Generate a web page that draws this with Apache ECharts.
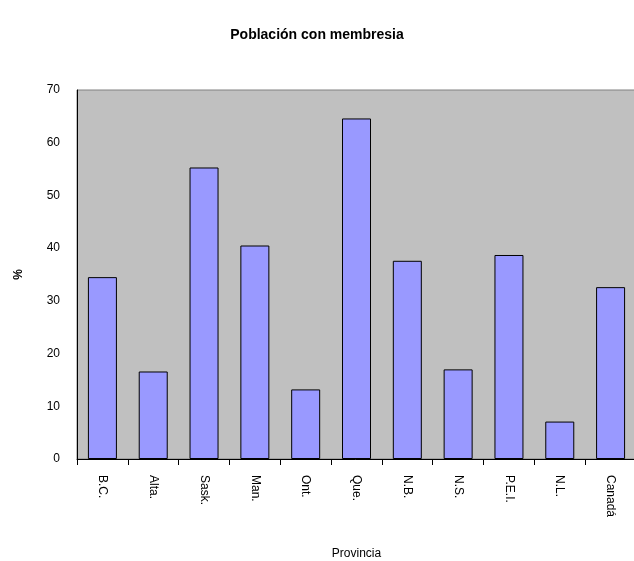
<!DOCTYPE html>
<html>
<head>
<meta charset="utf-8">
<script src="https://cdn.jsdelivr.net/npm/echarts@6/dist/echarts.min.js"></script>
<style>
  html, body { margin: 0; padding: 0; background: #fff; }
  #chart { width: 634px; height: 561px; }
</style>
</head>
<body>
<div id="chart"></div>
<script>
const provinces = ['B.C.', 'Alta.', 'Sask.', 'Man.', 'Ont.', 'Que.', 'N.B.', 'N.S.', 'P.E.I.', 'N.L.', 'Canadá'];
const membership = [34.5, 16.6, 55.3, 40.5, 13.2, 64.6, 37.6, 17.0, 38.7, 7.1, 32.6];
const yTicks = { min: 0, max: 70, interval: 10 };

const chartDom = document.getElementById('chart');
const myChart = echarts.init(chartDom);

const font = 'Arial, "Liberation Sans", sans-serif';

const option = {
    animation: false,
    title: {
        text: 'Población con membresia',
        left: 'center',
        top: 23,
        textStyle: {
            fontFamily: font,
            fontSize: 14,
            fontWeight: 'bold',
            color: '#000'
        }
    },
    grid: {
        left: 77,
        top: 90,
        width: 559,
        height: 369,
        outerBoundsMode: 'none',
        containLabel: false,
        show: true,
        backgroundColor: '#C0C0C0',
        borderColor: '#808080',
        borderWidth: 1
    },
    xAxis: {
        type: 'category',
        data: provinces,
        name: 'Provincia',
        nameLocation: 'middle',
        nameGap: 89,
        nameTextStyle: { fontFamily: font, fontSize: 12, color: '#000' },
        axisLine: { lineStyle: { color: '#000', width: 1 } },
        axisTick: { show: true, length: 6, lineStyle: { color: '#000' } },
        axisLabel: {
            rotate: -90,
            margin: 16,
            fontFamily: font,
            fontSize: 12,
            color: '#000'
        }
    },
    yAxis: {
        type: 'value',
        min: yTicks.min,
        max: yTicks.max,
        interval: yTicks.interval,
        name: '%',
        nameLocation: 'middle',
        nameGap: 52,
        nameTextStyle: { fontFamily: font, fontSize: 12, fontWeight: 'bold', color: '#000' },
        axisLine: { show: true, lineStyle: { color: '#000', width: 1 } },
        axisTick: { show: false },
        splitLine: { show: false },
        axisLabel: {
            margin: 17,
            fontFamily: font,
            fontSize: 12,
            color: '#000'
        }
    },
    series: [{
        name: 'Población con membresia',
        type: 'bar',
        data: membership,
        barWidth: 29,
        itemStyle: {
            color: '#9999FF',
            borderColor: '#000',
            borderWidth: 1
        }
    }]
};

myChart.setOption(option);
</script>
</body>
</html>
